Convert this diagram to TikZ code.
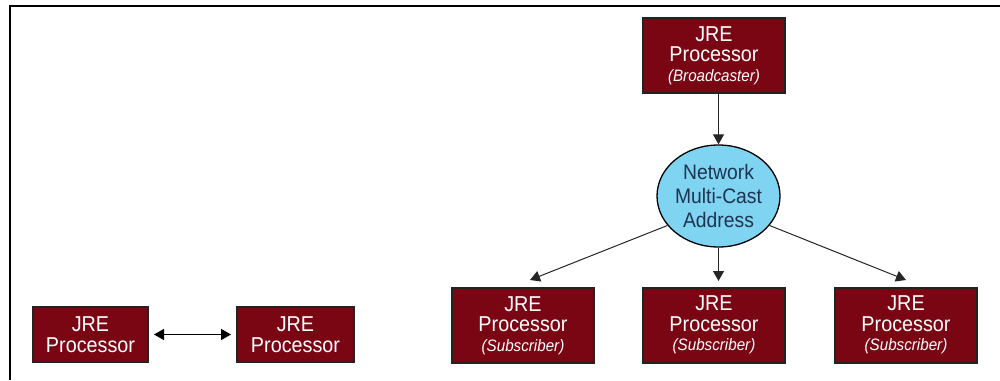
\documentclass[tikz,border=0pt]{standalone}
\usepackage{fontspec}
\setmainfont{Liberation Sans}[FakeStretch=0.92]
\usetikzlibrary{shapes.geometric,arrows.meta}
\definecolor{jrered}{HTML}{7A0614}
\definecolor{jreedge}{HTML}{262222}
\definecolor{netblue}{HTML}{7FD4F2}
\definecolor{nettext}{HTML}{1E3450}
\newcommand\rolefont{\fontsize{16.5}{17}\itshape}
\tikzset{
  proc/.style={draw=jreedge, line width=2pt, fill=jrered, text=white,
    inner sep=0pt, align=center, font=\fontsize{21.5}{20.5}\selectfont},
  net/.style={ellipse, draw=black, line width=1.3pt, fill=netblue, text=nettext,
    minimum width=123pt, minimum height=102pt, inner sep=0pt, align=center,
    font=\fontsize{21}{24}\selectfont},
  link/.style={draw=black!85, line width=1pt, -{Triangle[length=10pt,width=11pt]}},
  frame/.style={draw=black, line width=1.4pt}
}
\begin{document}
\begin{tikzpicture}[x=1pt,y=-1pt]
\useasboundingbox (0,0) rectangle (1000,380);
% open frame along the top and left edges
\coordinate (ftop) at (1000,6);
\coordinate (fcorner) at (10,6);
\coordinate (fbot) at (10,380);
\draw[frame] (ftop) -- (fcorner) -- (fbot);

% point-to-point pair
\node[proc, minimum width=115pt, minimum height=55pt] (pa) at (90.5,334.5) {JRE\\Processor};
\node[proc, minimum width=117pt, minimum height=55pt] (pb) at (295.5,334.5) {JRE\\Processor};
\draw[draw=black, line width=1.5pt, {Triangle[length=10pt,width=11pt]}-{Triangle[length=10pt,width=11pt]}]
  ([xshift=5pt]pa.east) -- ([xshift=-5pt]pb.west);

% multicast group
\node[proc, minimum width=142pt, minimum height=75pt] (bc) at (714,55.5)
  {JRE\\Processor\\[-1pt]{\rolefont (Broadcaster)}};
\node[net] (net) at (718.5,196) {Network\\Multi-Cast\\Address};
\node[proc, minimum width=142pt, minimum height=75pt] (s1) at (523,325.5)
  {JRE\\Processor\\[-1pt]{\rolefont (Subscriber)}};
\node[proc, minimum width=142pt, minimum height=75pt] (s2) at (714,325)
  {JRE\\Processor\\[-1pt]{\rolefont (Subscriber)}};
\node[proc, minimum width=142pt, minimum height=75pt] (s3) at (906,325)
  {JRE\\Processor\\[-1pt]{\rolefont (Subscriber)}};

\draw[link] (bc.south -| net.north) -- (net.north);
\coordinate (t1) at (530,280);
\coordinate (t2) at (718.5,281);
\coordinate (t3) at (906,280);
\draw[link] (net.210) -- (t1);
\draw[link] (net.south) -- (t2);
\draw[link] (net.-30) -- (t3);
\end{tikzpicture}
\end{document}
